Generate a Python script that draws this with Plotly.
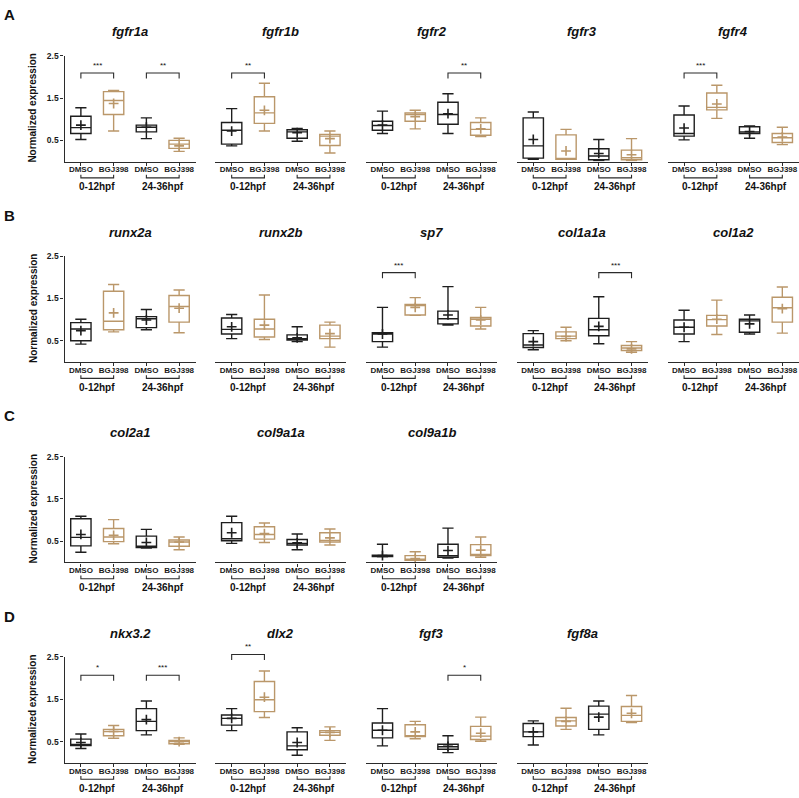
import plotly.graph_objects as go

# ---------------- data ----------------
CATS = ["DMSO", "BGJ398", "DMSO", "BGJ398"]
GROUPS = ["0-12hpf", "24-36hpf"]
PANEL_LETTERS = ["A", "B", "C", "D"]
ROWS = [
    ["fgfr1a", "fgfr1b", "fgfr2", "fgfr3", "fgfr4"],
    ["runx2a", "runx2b", "sp7", "col1a1a", "col1a2"],
    ["col2a1", "col9a1a", "col9a1b"],
    ["nkx3.2", "dlx2", "fgf3", "fgf8a"],
]
Y_TICKS = [0.5, 1.5, 2.5]
Y_TICKTEXT = ["0.5", "1.5", "2.5"]
Y_MAX = 2.5

# order of the 4 values: DMSO 0-12, BGJ398 0-12, DMSO 24-36, BGJ398 24-36
LOWER = {
    "fgfr1a": [0.52, 0.72, 0.54, 0.24], "fgfr1b": [0.37, 0.72, 0.48, 0.20],
    "fgfr2": [0.66, 0.77, 0.66, 0.59], "fgfr3": [0.05, 0.05, 0.02, 0.02],
    "fgfr4": [0.51, 1.02, 0.55, 0.40], "runx2a": [0.42, 0.71, 0.76, 0.69],
    "runx2b": [0.55, 0.53, 0.48, 0.35], "sp7": [0.35, 1.10, 0.87, 0.78],
    "col1a1a": [0.29, 0.50, 0.43, 0.23], "col1a2": [0.48, 0.65, 0.66, 0.68],
    "col2a1": [0.24, 0.44, 0.34, 0.30], "col9a1a": [0.45, 0.47, 0.30, 0.41],
    "col9a1b": [0.13, 0.05, 0.10, 0.12], "nkx3.2": [0.34, 0.58, 0.66, 0.44],
    "dlx2": [0.76, 1.07, 0.18, 0.53], "fgf3": [0.40, 0.57, 0.24, 0.51],
    "fgf8a": [0.42, 0.79, 0.66, 0.95],
}
Q1 = {
    "fgfr1a": [0.66, 1.11, 0.70, 0.31], "fgfr1b": [0.41, 0.90, 0.55, 0.38],
    "fgfr2": [0.74, 0.95, 0.88, 0.62], "fgfr3": [0.08, 0.05, 0.04, 0.04],
    "fgfr4": [0.60, 1.22, 0.66, 0.45], "runx2a": [0.50, 0.76, 0.81, 0.94],
    "runx2b": [0.66, 0.59, 0.52, 0.55], "sp7": [0.48, 1.11, 0.90, 0.85],
    "col1a1a": [0.34, 0.55, 0.62, 0.27], "col1a2": [0.66, 0.85, 0.70, 0.94],
    "col2a1": [0.39, 0.49, 0.35, 0.38], "col9a1a": [0.51, 0.55, 0.41, 0.48],
    "col9a1b": [0.14, 0.05, 0.12, 0.16], "nkx3.2": [0.41, 0.64, 0.76, 0.45],
    "dlx2": [0.89, 1.21, 0.31, 0.65], "fgf3": [0.59, 0.62, 0.32, 0.55],
    "fgf8a": [0.62, 0.87, 0.79, 0.98],
}
MEDIAN = {
    "fgfr1a": [0.80, 1.44, 0.81, 0.41], "fgfr1b": [0.74, 1.15, 0.70, 0.60],
    "fgfr2": [0.85, 1.11, 1.11, 0.76], "fgfr3": [0.37, 0.06, 0.13, 0.09],
    "fgfr4": [0.66, 1.28, 0.70, 0.56], "runx2a": [0.78, 0.96, 1.02, 1.31],
    "runx2b": [0.77, 0.78, 0.55, 0.61], "sp7": [0.66, 1.33, 1.02, 1.01],
    "col1a1a": [0.40, 0.61, 0.76, 0.33], "col1a2": [0.82, 1.00, 0.97, 1.28],
    "col2a1": [0.59, 0.60, 0.38, 0.48], "col9a1a": [0.56, 0.66, 0.45, 0.52],
    "col9a1b": [0.16, 0.07, 0.16, 0.19], "nkx3.2": [0.42, 0.74, 0.98, 0.50],
    "dlx2": [1.05, 1.49, 0.40, 0.72], "fgf3": [0.77, 0.63, 0.38, 0.63],
    "fgf8a": [0.73, 0.99, 1.15, 1.12],
}
Q3 = {
    "fgfr1a": [1.07, 1.65, 0.86, 0.50], "fgfr1b": [0.92, 1.53, 0.75, 0.64],
    "fgfr2": [0.95, 1.15, 1.40, 0.92], "fgfr3": [1.03, 0.63, 0.30, 0.27],
    "fgfr4": [1.10, 1.62, 0.82, 0.66], "runx2a": [0.93, 1.67, 1.07, 1.57],
    "runx2b": [1.04, 1.01, 0.64, 0.87], "sp7": [0.69, 1.36, 1.20, 1.05],
    "col1a1a": [0.67, 0.71, 1.03, 0.39], "col1a2": [0.99, 1.10, 1.01, 1.53],
    "col2a1": [1.03, 0.80, 0.62, 0.53], "col9a1a": [0.94, 0.84, 0.54, 0.70],
    "col9a1b": [0.17, 0.16, 0.43, 0.42], "nkx3.2": [0.56, 0.79, 1.28, 0.53],
    "dlx2": [1.13, 1.92, 0.73, 0.76], "fgf3": [0.94, 0.90, 0.44, 0.86],
    "fgf8a": [0.93, 1.07, 1.34, 1.33],
}
UPPER = {
    "fgfr1a": [1.27, 1.68, 1.03, 0.55], "fgfr1b": [1.25, 1.85, 0.78, 0.72],
    "fgfr2": [1.19, 1.21, 1.60, 1.03], "fgfr3": [1.17, 0.76, 0.52, 0.54],
    "fgfr4": [1.31, 1.80, 0.84, 0.81], "runx2a": [1.01, 1.83, 1.24, 1.70],
    "runx2b": [1.12, 1.58, 0.83, 0.94], "sp7": [1.29, 1.52, 1.78, 1.29],
    "col1a1a": [0.74, 0.82, 1.54, 0.48], "col1a2": [1.22, 1.46, 1.11, 1.77],
    "col2a1": [1.09, 1.01, 0.78, 0.60], "col9a1a": [1.09, 0.93, 0.67, 0.79],
    "col9a1b": [0.43, 0.25, 0.81, 0.60], "nkx3.2": [0.68, 0.88, 1.46, 0.59],
    "dlx2": [1.28, 2.17, 0.83, 0.85], "fgf3": [1.28, 0.98, 0.64, 1.08],
    "fgf8a": [0.99, 1.29, 1.46, 1.59],
}
MEAN = {
    "fgfr1a": [0.86, 1.37, 0.81, 0.37], "fgfr1b": [0.72, 1.21, 0.68, 0.54],
    "fgfr2": [0.86, 1.06, 1.13, 0.77], "fgfr3": [0.52, 0.25, 0.19, 0.16],
    "fgfr4": [0.79, 1.36, 0.71, 0.58], "runx2a": [0.74, 1.16, 0.99, 1.27],
    "runx2b": [0.83, 0.87, 0.57, 0.67], "sp7": [0.66, 1.29, 1.11, 0.99],
    "col1a1a": [0.48, 0.60, 0.84, 0.31], "col1a2": [0.82, 1.01, 0.90, 1.26],
    "col2a1": [0.66, 0.64, 0.47, 0.48], "col9a1a": [0.70, 0.68, 0.46, 0.58],
    "col9a1b": [0.16, 0.09, 0.28, 0.29], "nkx3.2": [0.48, 0.74, 1.02, 0.50],
    "dlx2": [1.05, 1.55, 0.48, 0.72], "fgf3": [0.77, 0.73, 0.39, 0.70],
    "fgf8a": [0.73, 0.98, 1.08, 1.17],
}
# significance brackets: gene, group index, label, bracket height
SIG_GENE = ["fgfr1a", "fgfr1a", "fgfr1b", "fgfr2", "fgfr4", "sp7", "col1a1a",
            "nkx3.2", "nkx3.2", "dlx2", "fgf3"]
SIG_GROUP = [0, 1, 0, 1, 0, 0, 1, 0, 1, 0, 1]
SIG_LABEL = ["***", "**", "**", "**", "***", "***", "***", "*", "***", "**", "*"]
SIG_HEIGHT = [2.09, 2.09, 2.09, 2.09, 2.09, 2.11, 2.11, 2.07, 2.07, 2.56, 2.07]

# ---------------- styling / layout ----------------
W, H = 799, 798
FONT = "Arial, Liberation Sans, sans-serif"
BLACK = "#1e1e1e"
TAN = "#BA976A"
AXIS_COL = "#2b2b2b"
PANEL_X0 = 64.5
PANEL_DX = 150.8
PANEL_W = 131.0
ROW_TOP0 = 51.0
ROW_DY = 201.7
AXIS_H = 106.5


def px_y(p):
    return 1 - p / H


fig = go.Figure()
layout = dict(
    width=W, height=H, margin=dict(l=0, r=0, t=0, b=0),
    paper_bgcolor="white", plot_bgcolor="white", showlegend=False,
    font=dict(family=FONT, color="#1a1a1a"),
    boxmode="overlay",
)
annotations = []
shapes = []

k = 0
axis_of = {}
for r, genes in enumerate(ROWS):
    top = ROW_TOP0 + ROW_DY * r
    bottom = top + AXIS_H
    annotations.append(dict(
        text="<b>%s</b>" % PANEL_LETTERS[r], xref="paper", yref="paper",
        x=2 / W, y=px_y(top - 41), xanchor="left", yanchor="middle",
        showarrow=False, font=dict(size=15, family=FONT, color="#111")))
    annotations.append(dict(
        text="<b>Normalized expression</b>", xref="paper", yref="paper",
        x=33 / W, y=px_y((top + bottom) / 2), textangle=-90,
        xanchor="center", yanchor="middle", showarrow=False,
        font=dict(size=10, family=FONT, color="#111")))
    for c, gene in enumerate(genes):
        k += 1
        axis_of[gene] = k
        sx = "" if k == 1 else str(k)
        x0 = PANEL_X0 + PANEL_DX * c
        layout["xaxis" + sx] = dict(
            domain=[x0 / W, min(1.0, (x0 + PANEL_W) / W)], anchor="y" + sx,
            range=[-0.5, 3.5], tickmode="array", tickvals=[0, 1, 2, 3],
            ticktext=CATS, showline=True, linecolor=AXIS_COL, linewidth=1.3,
            ticks="outside", ticklen=3, tickwidth=1.2, tickcolor=AXIS_COL,
            ticklabelstandoff=-3,
            tickfont=dict(size=8, family=FONT, weight="bold", color="#1a1a1a"),
            showgrid=False, zeroline=False, fixedrange=True)
        ydict = dict(
            domain=[px_y(bottom), px_y(top)], anchor="x" + sx,
            range=[0, Y_MAX], showgrid=False, zeroline=False, fixedrange=True)
        if c == 0:
            ydict.update(
                tickmode="array", tickvals=Y_TICKS, ticktext=Y_TICKTEXT,
                showline=True, linecolor=AXIS_COL, linewidth=1.3,
                ticks="outside", ticklen=3, tickwidth=1.2, tickcolor=AXIS_COL,
                tickfont=dict(size=8.5, family=FONT, weight="bold", color="#1a1a1a"))
        else:
            ydict.update(visible=False)
        layout["yaxis" + sx] = ydict

        # title
        annotations.append(dict(
            text="<b><i>%s</i></b>" % gene, xref="x%s domain" % sx, yref="paper",
            x=0.5, y=px_y(top - 24), xanchor="center", yanchor="middle",
            showarrow=False, font=dict(size=13, family=FONT, color="#111")))

        # boxes
        for idxs, col in (([0, 2], BLACK), ([1, 3], TAN)):
            fig.add_trace(go.Box(
                x=idxs,
                lowerfence=[LOWER[gene][i] for i in idxs],
                q1=[Q1[gene][i] for i in idxs],
                median=[MEDIAN[gene][i] for i in idxs],
                q3=[Q3[gene][i] for i in idxs],
                upperfence=[UPPER[gene][i] for i in idxs],
                xaxis="x" + sx, yaxis="y" + sx,
                line=dict(color=col, width=1.4), fillcolor="white",
                width=0.62, whiskerwidth=0.55, boxpoints=False,
                showlegend=False, hoverinfo="skip"))
            fig.add_trace(go.Scatter(
                x=idxs, y=[MEAN[gene][i] for i in idxs], mode="markers",
                xaxis="x" + sx, yaxis="y" + sx, cliponaxis=False,
                marker=dict(symbol="cross-thin", size=7, color=col,
                            line=dict(color=col, width=1.6)),
                showlegend=False, hoverinfo="skip"))

        # group brackets and labels below the axis
        for g, glabel in enumerate(GROUPS):
            a, b = 2 * g, 2 * g + 1
            yb = px_y(bottom + 16.5)
            yu = px_y(bottom + 13.3)
            shapes.append(dict(
                type="path", xref="x" + sx, yref="paper",
                path="M %d,%f L %d,%f L %d,%f L %d,%f" % (a, yu, a, yb, b, yb, b, yu),
                line=dict(color=AXIS_COL, width=1.1)))
            annotations.append(dict(
                text="<b>%s</b>" % glabel, xref="x" + sx, yref="paper",
                x=(a + b) / 2, y=px_y(bottom + 25.5), xanchor="center",
                yanchor="middle", showarrow=False,
                font=dict(size=10, family=FONT, color="#111")))

# significance brackets
for gene, g, lab, h in zip(SIG_GENE, SIG_GROUP, SIG_LABEL, SIG_HEIGHT):
    kk = axis_of[gene]
    sx = "" if kk == 1 else str(kk)
    a, b = 2 * g, 2 * g + 1
    yt = h / Y_MAX
    yd = (h - 0.13) / Y_MAX
    shapes.append(dict(
        type="path", xref="x" + sx, yref="y%s domain" % sx,
        path="M %d,%f L %d,%f L %d,%f L %d,%f" % (a, yd, a, yt, b, yt, b, yd),
        line=dict(color=AXIS_COL, width=1.1)))
    annotations.append(dict(
        text=lab, xref="x" + sx, yref="y%s domain" % sx,
        x=(a + b) / 2, y=yt, yshift=1, xanchor="center", yanchor="bottom",
        showarrow=False, font=dict(size=8, family=FONT, color="#111")))

layout["annotations"] = annotations
layout["shapes"] = shapes
fig.update_layout(**layout)
fig.write_html(
    "out.html",
    config={"displayModeBar": False},
    post_script="document.body.style.margin='0';document.body.style.overflow='hidden';",
)
